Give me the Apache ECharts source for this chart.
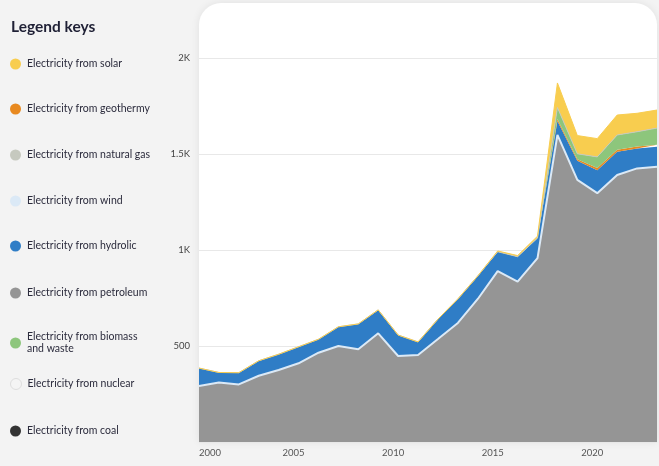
<!DOCTYPE html>
<html>
<head>
<meta charset="utf-8">
<script src="https://cdn.jsdelivr.net/npm/echarts@6/dist/echarts.min.js"></script>
<style>
  html, body { margin: 0; padding: 0; background: #f3f3f3; }
  #chart { width: 659px; height: 466px; }
</style>
</head>
<body>
<div id="chart"></div>
<script>
// Electricity generation by source (GWh), 2000–2023
const years = [2000, 2001, 2002, 2003, 2004, 2005, 2006, 2007, 2008, 2009, 2010, 2011,
               2012, 2013, 2014, 2015, 2016, 2017, 2018, 2019, 2020, 2021, 2022, 2023];

const coal       = [0, 0, 0, 0, 0, 0, 0, 0, 0, 0, 0, 0, 0, 0, 0, 0, 0, 0, 0, 0, 0, 0, 0, 0];
const petroleum  = [292, 310, 300, 345, 375, 410, 465, 500, 483, 566, 448, 453,
                    536, 620, 745, 890, 835, 958, 1600, 1365, 1296, 1391, 1425, 1434];
const nuclear    = [0, 0, 0, 0, 0, 0, 0, 0, 0, 0, 0, 0, 0, 0, 0, 0, 0, 0, 0, 0, 0, 0, 0, 0];
const wind       = [0, 0, 0, 0, 0, 0, 0, 0, 0, 0, 0, 0, 0, 0, 0, 0, 0, 0, 0, 0, 0, 0, 0, 0];
const hydrolic   = [93, 52, 61, 78, 82, 86, 70, 100, 132, 122, 109, 68,
                    104, 125, 120, 101, 130, 104, 72, 100, 119, 121, 104, 104];
const geothermy  = [0, 0, 0, 0, 0, 0, 0, 0, 0, 0, 0, 0, 0, 0, 0, 0, 0, 0, 10, 8, 12, 10, 10, 10];
const biomass    = [0, 0, 0, 0, 0, 0, 0, 0, 0, 0, 0, 0, 0, 0, 0, 0, 0, 0, 60, 28, 58, 77, 77, 87];
const naturalGas = [0, 0, 0, 0, 0, 0, 0, 0, 0, 0, 0, 0, 0, 0, 0, 0, 0, 0, 0, 0, 0, 0, 0, 0];
const solar      = [0, 0, 0, 0, 0, 0, 0, 0, 0, 0, 0, 0, 0, 0, 0, 4, 6, 10, 128, 95, 95, 104, 96, 94];

const yTicks = [0, 500, 1000, 1500, 2000];
const xLabelStep = 5;

// Stack order, bottom to top
const sources = [
  { name: 'Electricity from coal',              data: coal,       color: '#333333', line: 0 },
  { name: 'Electricity from petroleum',         data: petroleum,  color: '#959595', line: 0 },
  { name: 'Electricity from nuclear',           data: nuclear,    color: '#f4f4f4', line: 0 },
  { name: 'Electricity from wind',              data: wind,       color: '#dbe9f6', line: 2 },
  { name: 'Electricity from hydrolic',          data: hydrolic,   color: '#2f7dc6', line: 0 },
  { name: 'Electricity from geothermy',         data: geothermy,  color: '#e8891f', line: 0 },
  { name: 'Electricity from biomass and waste', data: biomass,    color: '#8dc67c', line: 0 },
  { name: 'Electricity from natural gas',       data: naturalGas, color: '#c6c9bf', line: 1 },
  { name: 'Electricity from solar',             data: solar,      color: '#f8cd4f', line: 1 }
];

// Legend order, top to bottom
const legendOrder = [
  'Electricity from solar',
  'Electricity from geothermy',
  'Electricity from natural gas',
  'Electricity from wind',
  'Electricity from hydrolic',
  'Electricity from petroleum',
  'Electricity from biomass and waste',
  'Electricity from nuclear',
  'Electricity from coal'
];
const legendCenters = [64, 109, 155, 201, 246, 293, 343, 384, 431];

const colorOf = {};
sources.forEach(s => { colorOf[s.name] = s.color; });

const legends = legendOrder.map((name, i) => {
  const twoLine = name.indexOf(' and waste') >= 0;
  const isNuclear = name === 'Electricity from nuclear';
  return {
    orient: 'vertical',
    left: 10,
    top: legendCenters[i] - (twoLine ? 12 : 6),
    padding: 0,
    selectedMode: false,
    itemWidth: 13,
    itemHeight: 11,
    icon: 'circle',
    data: [{
      name: name,
      itemStyle: {
        color: colorOf[name],
        borderColor: isNuclear ? '#dedede' : colorOf[name],
        borderWidth: isNuclear ? 1 : 0
      }
    }],
    formatter: n => n.replace(' and waste', '\nand waste'),
    textStyle: {
      fontFamily: 'Lato',
      fontSize: 10.5,
      lineHeight: 12,
      color: '#2b2b3c'
    }
  };
});

const chart = echarts.init(document.getElementById('chart'), null, { renderer: 'canvas' });

chart.setOption({
  backgroundColor: '#f3f3f3',
  animation: false,
  textStyle: { fontFamily: 'Lato' },
  title: {
    text: 'Legend keys',
    left: 11,
    top: 19,
    padding: 0,
    textStyle: { fontFamily: 'Lato', fontSize: 15.5, fontWeight: 'bold', color: '#1f2035' }
  },
  legend: legends,
  graphic: [{
    type: 'rect',
    z: -10,
    silent: true,
    shape: { x: 199, y: 3, width: 458, height: 439, r: [22, 22, 0, 0] },
    style: { fill: '#ffffff', shadowBlur: 8, shadowColor: 'rgba(0,0,0,0.08)' }
  }],
  grid: { left: 199, right: 2, top: 58, bottom: 24, containLabel: false },
  xAxis: {
    type: 'category',
    boundaryGap: false,
    data: years.map(String),
    axisLine: { show: false },
    axisTick: { show: false },
    splitLine: { show: false },
    axisLabel: {
      margin: 6,
      fontSize: 9.5,
      color: '#555555',
      interval: (idx) => idx % xLabelStep === 0,
      alignMinLabel: 'left',
      padding: [0, 10, 0, 0]
    }
  },
  yAxis: {
    type: 'value',
    min: yTicks[0],
    max: yTicks[yTicks.length - 1],
    interval: yTicks[1] - yTicks[0],
    axisLine: { show: false },
    axisTick: { show: false },
    splitLine: { lineStyle: { color: '#e8e8e8', width: 1 } },
    axisLabel: {
      margin: 9,
      fontSize: 9.5,
      color: '#444444',
      showMinLabel: false,
      formatter: v => v >= 1000 ? (v / 1000) + 'K' : String(v)
    }
  },
  series: sources.map(s => ({
    name: s.name,
    type: 'line',
    stack: 'total',
    symbol: 'none',
    silent: true,
    data: s.data,
    itemStyle: { color: s.color },
    lineStyle: { width: s.line, color: s.color },
    areaStyle: { color: s.color, opacity: 1 },
    emphasis: { disabled: true }
  }))
});
</script>
</body>
</html>
